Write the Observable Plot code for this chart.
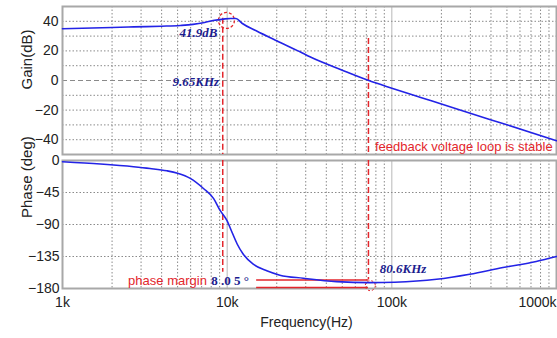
<!DOCTYPE html>
<html>
<head>
<meta charset="utf-8">
<script src="https://cdn.jsdelivr.net/npm/d3@7"></script>
<script src="https://cdn.jsdelivr.net/npm/@observablehq/plot@0.6"></script>
<style>
  html, body { margin: 0; padding: 0; background: #fff; }
  #chart svg { display: block; }
</style>
</head>
<body>
<div id="chart"></div>
<script>
// ---- data ----
const gainFreq = [1000, 2000, 2700, 4000, 5200, 6200, 7300, 8200, 9500, 10500, 11300, 12300, 15000, 20000, 27700, 31800, 50000, 72500, 100000, 148000, 200000, 393000, 500000, 1000000];
const gainDb   = [35.0, 35.8, 36.2, 36.7, 37.2, 37.9, 39.2, 40.5, 41.5, 41.9, 41.9, 38.7, 33.6, 26.8, 19.4, 16.0, 7.0, 0, -5.2, -11.3, -15.9, -26.3, -29.9, -40.7];

const phaseFreq = [1000, 1700, 2700, 3400, 4300, 5000, 5970, 7180, 8280, 9060, 9960, 10700, 11500, 12500, 14400, 17400, 20900, 29000, 46200, 73500, 104000, 187000, 297000, 473000, 753000, 1000000];
const phaseDeg  = [-1.7, -5, -8.8, -11.3, -14.5, -18, -25.2, -39.4, -53.6, -70.2, -84.3, -100.9, -117.4, -131.5, -145.7, -155.2, -161.3, -165.6, -170.4, -171.8, -171.2, -167, -159.9, -150.5, -142, -135];

const xTicks = [1000, 10000, 100000];
const xTickLast = [1000000];
const gainTicks = [-40, -20, 0, 20, 40];
const gainGrid = [-40, -30, -20, -10, 10, 20, 30, 40];
const phaseTicks = [-180, -135, -90, -45, 0];
const phaseGrid = [-45, -90, -135];
const minorGrid = [2,3,4,5,6,7,8,9,20,30,40,50,60,70,80,90,200,300,400,500,600,700,800,900].map(k => k * 1000);
const decadeGrid = [10000, 100000];

const peakFreq = 9400, crossFreq = 72100;
const peakText = ["41.9dB"], peakFreqText = ["9.65KHz"], crossText = ["80.6KHz"];
const stableText = ["feedback voltage loop is stable"];
const marginLabel = ["phase margin"], marginValue = ["8 .0 5 °"];
const marginLines = [-168, -178.6];

// ---- styles ----
const BLUE = "#2323e6", NAVY = "#1c1c8e", RED = "#e3262c";
const sans = "'Liberation Sans', Arial, sans-serif";
const serif = "'Liberation Serif', 'Times New Roman', serif";
const gridStyle = {stroke: "#8a8a8a", strokeOpacity: 1, strokeDasharray: "1.5,2"};
const dashRed = {stroke: RED, strokeWidth: 1.5, strokeDasharray: "6,3"};
const baseStyle = {fontFamily: sans, fontSize: "14px", color: "#222", background: "#fff", overflow: "visible"};

const gain = gainFreq.map((f, i) => ({f, v: gainDb[i]}));
const phase = phaseFreq.map((f, i) => ({f, v: phaseDeg[i]}));

const gainPlot = Plot.plot({
  width: 557, height: 156,
  marginTop: 6, marginBottom: 2, marginLeft: 62, marginRight: 1,
  style: baseStyle,
  x: {type: "log", domain: [1e3, 1e6], axis: null},
  y: {domain: [-50, 50]},
  marks: [
    Plot.gridX(minorGrid, gridStyle),
    Plot.gridX(decadeGrid, {stroke: "#b8b8b8", strokeOpacity: 1}),
    Plot.gridY(gainGrid, gridStyle),
    Plot.ruleY([0], {stroke: "#8a8a8a", strokeDasharray: "5,3"}),
    Plot.frame({stroke: "#a8a8a8", strokeWidth: 2}),
    Plot.axisY(gainTicks, {tickSize: 0, tickPadding: 4, label: null, fontSize: 14}),
    Plot.text(["Gain(dB)"], {frameAnchor: "left", dx: -35, dy: 9, rotate: -90, fontSize: 15, fill: "#222"}),
    Plot.ruleX([peakFreq], {y1: 42, y2: -50, ...dashRed}),
    Plot.ruleX([crossFreq], {y1: 28.3, y2: -50, ...dashRed}),
    Plot.dot([{f: 9900, v: 40.6}], {x: "f", y: "v", r: 8, stroke: RED, strokeWidth: 1.3, strokeDasharray: "3,2", fill: "none"}),
    Plot.line(gain, {x: "f", y: "v", stroke: BLUE, strokeWidth: 1.6, curve: "monotone-x"}),
    Plot.text(peakText, {x: 8730, y: 32.3, textAnchor: "end", fill: NAVY, fontFamily: serif, fontWeight: "bold", fontStyle: "italic", fontSize: 13}),
    Plot.text(peakFreqText, {x: 8930, y: -0.9, textAnchor: "end", fill: NAVY, fontFamily: serif, fontWeight: "bold", fontStyle: "italic", fontSize: 13}),
    Plot.text(stableText, {x: 78900, y: -44.5, textAnchor: "start", fill: RED, fontSize: 13})
  ]
});

const phasePlot = Plot.plot({
  width: 557, height: 182,
  marginTop: 4, marginBottom: 50, marginLeft: 62, marginRight: 1,
  style: baseStyle,
  x: {type: "log", domain: [1e3, 1e6]},
  y: {domain: [-180, 0]},
  marks: [
    Plot.gridX(minorGrid, gridStyle),
    Plot.gridX(decadeGrid, {stroke: "#b8b8b8", strokeOpacity: 1}),
    Plot.gridY(phaseGrid, gridStyle),
    Plot.frame({stroke: "#a8a8a8", strokeWidth: 2}),
    Plot.axisY(phaseTicks, {tickSize: 0, tickPadding: 3, label: null, fontSize: 14}),
    Plot.axisX(xTicks, {tickSize: 0, tickPadding: 9, label: null, fontSize: 14, tickFormat: d => d / 1000 + "k"}),
    Plot.axisX(xTickLast, {tickSize: 0, tickPadding: 9, label: null, fontSize: 14, dx: -19, tickFormat: d => d / 1000 + "k"}),
    Plot.text(["Phase (deg)"], {frameAnchor: "left", dx: -35, dy: -6.5, rotate: -90, fontSize: 15, fill: "#222"}),
    Plot.text(["Frequency(Hz)"], {frameAnchor: "bottom", dx: -3, dy: 38.5, fontSize: 14, fill: "#222"}),
    Plot.ruleX([peakFreq], {y1: 0, y2: -157, ...dashRed}),
    Plot.ruleX([crossFreq], {y1: 0, y2: -168, ...dashRed}),
    Plot.ruleY(marginLines, {x1: 15100, x2: crossFreq, stroke: RED, strokeWidth: 1.5}),
    Plot.dot([{f: 74000, v: -176}], {x: "f", y: "v", r: 5, stroke: RED, strokeWidth: 1, strokeDasharray: "2,2", fill: "none"}),
    Plot.line(phase, {x: "f", y: "v", stroke: BLUE, strokeWidth: 1.6, curve: "monotone-x"}),
    Plot.text(marginLabel, {x: 7530, y: -169.4, textAnchor: "end", fill: RED, fontSize: 13}),
    Plot.text(marginValue, {x: 8000, y: -169.4, textAnchor: "start", fill: NAVY, fontFamily: serif, fontWeight: "bold", fontSize: 13}),
    Plot.text(crossText, {x: 84400, y: -152, textAnchor: "start", fill: NAVY, fontFamily: serif, fontWeight: "bold", fontStyle: "italic", fontSize: 13})
  ]
});

const root = document.getElementById("chart");
root.appendChild(gainPlot);
root.appendChild(phasePlot);
</script>
</body>
</html>
